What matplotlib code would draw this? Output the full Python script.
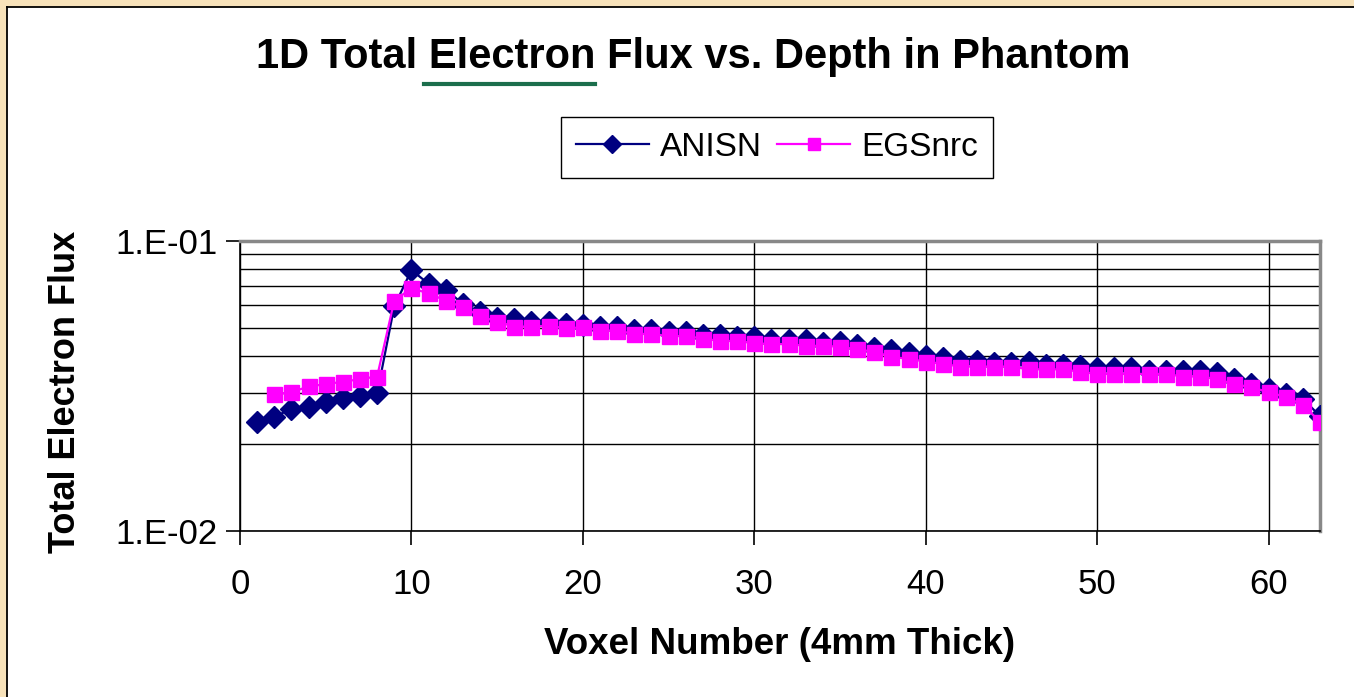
import matplotlib
matplotlib.use("Agg")
import matplotlib.pyplot as plt
from matplotlib.lines import Line2D
from matplotlib.patches import Rectangle
from matplotlib.ticker import FixedLocator, NullFormatter, LogLocator
import numpy as np

# ---------------- data ----------------
voxel_anisn = list(range(1, 64))
flux_anisn = [0.0238, 0.0248, 0.0263, 0.0268, 0.0279, 0.0287, 0.0293, 0.0298,
              0.0595, 0.0794, 0.0712, 0.0680, 0.0607, 0.0569, 0.0541, 0.0538,
              0.0526, 0.0526, 0.0518, 0.0515, 0.0507, 0.0504, 0.0494, 0.0494,
              0.0484, 0.0484, 0.0475, 0.0473, 0.0466, 0.0466, 0.0456, 0.0456,
              0.0456, 0.0446, 0.0447, 0.0437, 0.0428, 0.0420, 0.0411, 0.0402,
              0.0395, 0.0387, 0.0387, 0.0380, 0.0380, 0.0382, 0.0373, 0.0373,
              0.0372, 0.0365, 0.0365, 0.0365, 0.0357, 0.0357, 0.0357, 0.0357,
              0.0350, 0.0335, 0.0321, 0.0310, 0.0297, 0.0286, 0.0249]

voxel_egs = list(range(2, 64))
flux_egs = [0.0296, 0.0301, 0.0315, 0.0321, 0.0327, 0.0334, 0.0341,
            0.0623, 0.0687, 0.0660, 0.0623, 0.0591, 0.0551, 0.0527, 0.0507,
            0.0507, 0.0510, 0.0500, 0.0504, 0.0491, 0.0491, 0.0478, 0.0478,
            0.0470, 0.0470, 0.0461, 0.0452, 0.0452, 0.0444, 0.0441, 0.0441,
            0.0435, 0.0435, 0.0432, 0.0423, 0.0415, 0.0399, 0.0392, 0.0384,
            0.0377, 0.0369, 0.0369, 0.0369, 0.0369, 0.0361, 0.0361, 0.0361,
            0.0354, 0.0348, 0.0348, 0.0348, 0.0348, 0.0348, 0.0341, 0.0341,
            0.0334, 0.0321, 0.0313, 0.0301, 0.0290, 0.0272, 0.0238]

x_ticks = [0, 10, 20, 30, 40, 50, 60]
y_ticks = [0.01, 0.1]
y_ticklabels = ["1.E-02", "1.E-01"]

title = "1D Total Electron Flux vs. Depth in Phantom"
xlabel = "Voxel Number (4mm Thick)"
ylabel = "Total Electron Flux"

# ---------------- figure ----------------
W, H = 1354, 697
plt.rcParams["font.family"] = ["Liberation Sans", "DejaVu Sans"]
fig = plt.figure(figsize=(W / 100, H / 100), dpi=100)
fig.patch.set_facecolor("#F7E2BA")

def fx(px):
    return px / W

def fy(py):
    return 1 - py / H

# white panel
fig.patches.append(Rectangle((fx(7), 0), 1.0, fy(7), transform=fig.transFigure,
                             facecolor="white", edgecolor="none", zorder=-5))
fig.lines.append(Line2D([fx(7), fx(7)], [0, fy(7)], transform=fig.transFigure,
                        color="black", lw=1.3, zorder=-4))
fig.lines.append(Line2D([fx(7), 1], [fy(7), fy(7)], transform=fig.transFigure,
                        color="black", lw=1.3, zorder=-4))

ax = fig.add_axes([fx(240), fy(531), fx(1320) - fx(240), fy(241) - fy(531)])
ax.set_zorder(2)
ax.set_facecolor("white")

ax.set_yscale("log")
ax.set_ylim(0.01, 0.1)
ax.set_xlim(0, 63)

ax.plot(voxel_anisn, flux_anisn, color="#000080", lw=1.6, marker="D",
        markersize=11, markerfacecolor="#000080", markeredgecolor="#000080",
        label="ANISN", zorder=3)
ax.plot(voxel_egs, flux_egs, color="#FF00FF", lw=1.6, marker="s",
        markersize=10.8, markerfacecolor="#FF00FF", markeredgecolor="#FF00FF",
        label="EGSnrc", zorder=4)

# ticks and grid
ax.xaxis.set_major_locator(FixedLocator(x_ticks))
ax.yaxis.set_major_locator(FixedLocator(y_ticks))
ax.set_yticklabels(y_ticklabels)
ax.yaxis.set_minor_locator(LogLocator(base=10, subs=np.arange(2, 10)))
ax.yaxis.set_minor_formatter(NullFormatter())
ax.tick_params(axis="y", which="minor", length=0)
ax.tick_params(axis="both", which="major", direction="out", length=10,
               width=1.2, color="black", labelsize=25)
ax.tick_params(axis="x", which="major", pad=17)
ax.tick_params(axis="y", which="major", pad=6)
ax.grid(True, which="both", axis="y", color="black", lw=1.0, zorder=1)
ax.grid(True, which="major", axis="x", color="black", lw=1.0, zorder=1)
ax.set_axisbelow(True)

for side in ["top", "right"]:
    ax.spines[side].set_color("#888888")
    ax.spines[side].set_linewidth(2.5)
for side in ["left", "bottom"]:
    ax.spines[side].set_color("black")
    ax.spines[side].set_linewidth(1.2)

ax.set_xlabel(xlabel, fontsize=26.5, fontweight="bold", va="center")
ax.xaxis.set_label_coords(0.5, (531 - 645) / 290)
ax.set_ylabel(ylabel, fontsize=26, fontweight="bold", va="center")
ax.yaxis.set_label_coords((66 - 240) / 1080, (531 - 392) / 290)

# title
fig.text(fx(693), fy(57), title, fontsize=30, fontweight="bold",
         ha="center", va="center")
fig.lines.append(Line2D([fx(424), fx(595)], [fy(84), fy(84)],
                        transform=fig.transFigure, color="#1B6E4C", lw=3))

leg = fig.legend(loc="center", bbox_to_anchor=(fx(777), fy(147)), ncol=2,
                 fontsize=24, frameon=True, fancybox=False, framealpha=1,
                 edgecolor="black", handlelength=2.2, handletextpad=0.33,
                 columnspacing=0.45, borderpad=0.45, markerscale=0.85)
leg.get_frame().set_linewidth(1.0)

fig.savefig("out.png", dpi=100, facecolor=fig.get_facecolor())
